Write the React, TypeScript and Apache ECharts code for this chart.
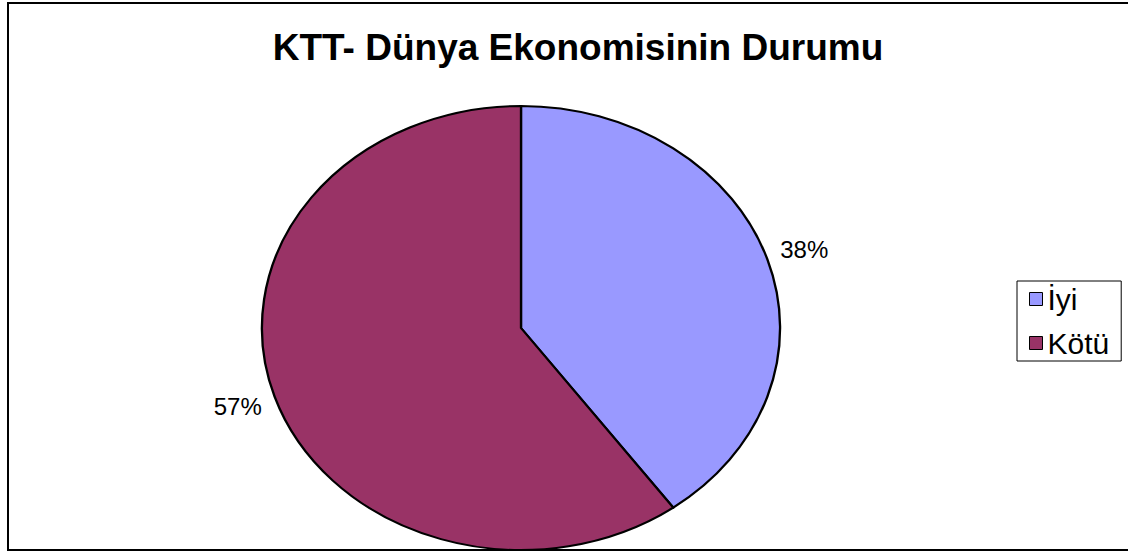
import React, { useEffect, useRef } from "react";
import * as echarts from "echarts";

const titleText = "KTT- Dünya Ekonomisinin Durumu";
const categories = ["İyi", "Kötü"];
const values = [38, 57];
const colors = ["#9999FF", "#993366"];

const CX = 521;
const CY = 328;
const RX = 259;
const RY = 222;
const LABEL_FACTOR = 1.15;

export default function App() {
  const ref = useRef<HTMLDivElement>(null);
  useEffect(() => {
    if (!ref.current) return;
    const chart = echarts.init(ref.current, null, { renderer: "svg" });
    const total = values.reduce((a, b) => a + b, 0);
    const series = categories.map((name, i) => ({
      type: "custom",
      name,
      coordinateSystem: "none",
      itemStyle: { color: colors[i], borderColor: "#000", borderWidth: 1 },
      data: [values[i]],
      renderItem: (params: any, api: any) => {
        const before = values.slice(0, i).reduce((a, b) => a + b, 0);
        const v = api.value(0);
        const a0 = (before / total) * Math.PI * 2;
        const a1 = ((before + v) / total) * Math.PI * 2;
        const mid = (a0 + a1) / 2;
        const lx = CX + LABEL_FACTOR * RX * Math.sin(mid);
        const ly = CY - LABEL_FACTOR * RY * Math.cos(mid);
        return {
          type: "group",
          children: [
            {
              type: "sector",
              x: CX,
              y: CY,
              scaleX: RX / RY,
              scaleY: 1,
              shape: {
                cx: 0,
                cy: 0,
                r: RY,
                r0: 0,
                startAngle: a0 - Math.PI / 2,
                endAngle: a1 - Math.PI / 2,
                clockwise: true,
              },
              style: {
                fill: colors[i],
                stroke: "#000",
                lineWidth: 2,
                strokeNoScale: true,
              },
            },
            {
              type: "text",
              x: lx,
              y: ly,
              style: {
                text: v + "%",
                fill: "#000",
                fontSize: 24,
                fontFamily: "Arial, 'Liberation Sans', sans-serif",
                align: "center",
                verticalAlign: "middle",
              },
            },
          ],
        };
      },
    }));
    chart.setOption({
      animation: false,
      backgroundColor: "#fff",
      title: {
        text: titleText,
        left: 573,
        top: 24,
        textAlign: "center",
        textStyle: {
          fontFamily: "Arial, 'Liberation Sans', sans-serif",
          fontWeight: "bold",
          fontSize: 37,
          color: "#000",
        },
      },
      legend: {
        data: categories,
        orient: "vertical",
        left: 1017,
        top: 281,
        icon: "rect",
        itemWidth: 13,
        itemHeight: 13,
        itemGap: 14,
        padding: [3, 12, 3, 12],
        borderColor: "#000",
        borderWidth: 1,
        itemStyle: { borderColor: "#000", borderWidth: 1 },
        textStyle: {
          fontFamily: "Arial, 'Liberation Sans', sans-serif",
          fontSize: 30,
          lineHeight: 30,
          color: "#000",
          padding: [0, 0, 0, 0],
        },
      },
      graphic: [
        {
          type: "rect",
          shape: { x: 8, y: 3, width: 1130, height: 547 },
          style: { fill: "none", stroke: "#000", lineWidth: 2 },
          z: 10,
        },
      ],
      series,
    });
    return () => chart.dispose();
  }, []);
  return (
    <div
      ref={ref}
      style={{ position: "absolute", left: 0, top: 0, width: 1128, height: 554 }}
    />
  );
}
